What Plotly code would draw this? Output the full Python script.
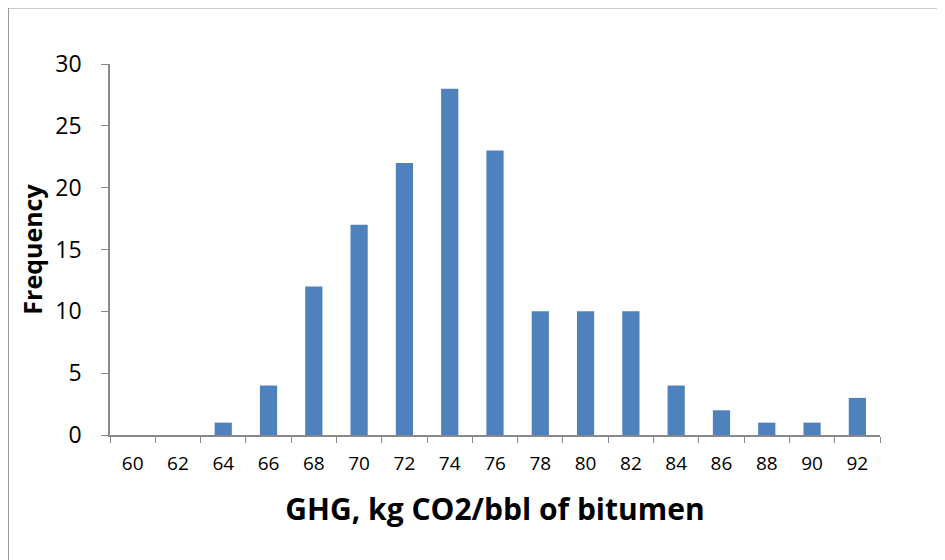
import plotly.graph_objects as go

categories = ["60", "62", "64", "66", "68", "70", "72", "74", "76", "78",
              "80", "82", "84", "86", "88", "90", "92"]
frequency = [0, 0, 1, 4, 12, 17, 22, 28, 23, 10, 10, 10, 4, 2, 1, 1, 3]

fig = go.Figure()
fig.add_trace(go.Bar(
    x=categories, y=frequency,
    marker=dict(color="#4F81BD", line=dict(width=0)),
))

OFF = 8  # page body margin
W, H = 945 - OFF, 560 - OFF
L, R, T, B = 110 - OFF, 880 - OFF, 64 - OFF, 435 - OFF

def px(xp):
    return (xp - L) / (R - L)

def py(yp):
    return (B - yp) / (B - T)

fig.update_layout(
    width=W, height=H,
    margin=dict(l=L, r=W - R, t=T, b=H - B, autoexpand=False),
    plot_bgcolor="white", paper_bgcolor="white",
    bargap=0.62,
    showlegend=False,
    font=dict(family="Open Sans, Liberation Sans, sans-serif", color="black"),
    xaxis=dict(
        type="category",
        tickson="boundaries",
        ticks="outside", ticklen=6, tickcolor="#888888",
        showline=True, linecolor="#888888", linewidth=1.5,
        showgrid=False,
        tickfont=dict(size=19),
        ticklabelstandoff=10,
        title=dict(text="<b>GHG, kg CO2/bbl of bitumen</b>", font=dict(size=30), standoff=24),
    ),
    yaxis=dict(
        range=[0, 30], dtick=5,
        ticks="outside", ticklen=7, tickcolor="#888888",
        showline=True, linecolor="#888888", linewidth=1.5,
        showgrid=False, zeroline=False,
        tickfont=dict(size=23),
        ticklabelstandoff=15,
        title=dict(text="<b>Frequency</b>", font=dict(size=25), standoff=6),
    ),
    shapes=[dict(
        type="rect", xref="paper", yref="paper",
        x0=px(0.5), x1=px(1000), y0=py(620), y1=py(0),
        line=dict(color="#999999", width=1), fillcolor="rgba(0,0,0,0)",
        layer="below",
    )],
)

fig.write_html("out.html")
